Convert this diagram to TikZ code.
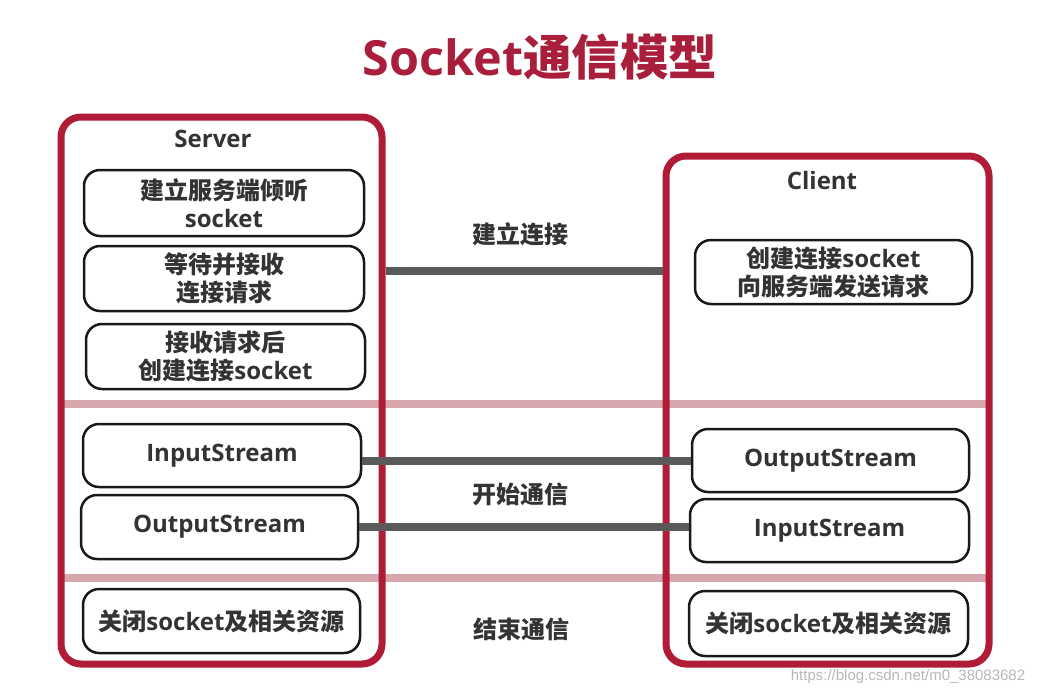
\documentclass[tikz,border=0pt]{standalone}
\usepackage{fontspec}
\setmainfont{Open Sans}
\newfontfamily\cjkfont{Noto Sans CJK SC}
\newfontfamily\wmfont{Liberation Sans}
\newcommand\zh[1]{{\cjkfont#1}}
\definecolor{framered}{HTML}{B01B35}
\definecolor{titlered}{HTML}{A91E3A}
\definecolor{bandpink}{HTML}{D8A6AD}
\definecolor{linkgray}{HTML}{5A5A5A}
\definecolor{txt}{HTML}{333333}
\begin{document}
\begin{tikzpicture}[x=1pt,y=-1pt,
 frame/.style={draw=framered,line width=7pt,rounded corners=20pt,inner sep=0pt},
 item/.style={draw=black!90,line width=2.5pt,rounded corners=16pt,align=center,text=txt,
   font=\bfseries\fontsize{24}{28}\selectfont,inner sep=0pt},
 band/.style={draw=bandpink,line width=8.5pt},
 link/.style={draw=linkgray,line width=8pt},
 lbl/.style={text=txt,font=\bfseries\fontsize{24}{28}\selectfont},
]
\path[use as bounding box,fill=white] (0,0) rectangle (1041,696);

% title
\node[text=titlered,font=\bfseries\fontsize{48.5}{54}\selectfont] (title) at (540,57) {Socket\zh{通信模型}};

% separator bands
\draw[band] (61,404) -- (989,404);
\draw[band] (61,578) -- (989,578);

% frames
\node[frame,minimum width=321pt,minimum height=547pt] (server) at (221.5,390.5) {};
\node[frame,minimum width=323pt,minimum height=508pt] (client) at (827.5,410) {};
\node[lbl] (serverlbl) at (213,139) {Server};
\node[lbl] (clientlbl) at (822,180) {Client};

% server items
\node[item,minimum width=280pt,minimum height=66pt] (s1) at (224,203) {\zh{建立服务端倾听}\\socket};
\node[item,minimum width=280pt,minimum height=65pt] (s2) at (224,278.5) {\zh{等待并接收}\\\zh{连接请求}};
\node[item,minimum width=279pt,minimum height=65pt] (s3) at (225.5,356.5) {\zh{接收请求后}\\\zh{创建连接}socket};
\node[item,minimum width=278pt,minimum height=63pt] (s4) at (222,455.5) {InputStream};
\node[item,minimum width=277pt,minimum height=64pt] (s5) at (219.5,527) {OutputStream};
\node[item,minimum width=277pt,minimum height=64pt] (s6) at (221.5,621) {\zh{关闭}socket\zh{及相关资源}};

% client items
\node[item,minimum width=277pt,minimum height=64pt] (c1) at (833.5,272) {\zh{创建连接}socket\\\zh{向服务端发送请求}};
\node[item,minimum width=277pt,minimum height=63pt] (c2) at (830.5,460.5) {OutputStream};
\node[item,minimum width=279pt,minimum height=63pt] (c3) at (829.5,530.5) {InputStream};
\node[item,minimum width=279pt,minimum height=65pt] (c4) at (828.5,623.5) {\zh{关闭}socket\zh{及相关资源}};

% connectors
\coordinate (k1) at (520,271);
\draw[link] (server.east |- k1) -- (client.west |- k1);
\draw[link] (s4.east |- c2) -- (c2.west);
\draw[link] (s5.east) -- (c3.west |- s5.east);

% phase labels
\node[lbl] (p1) at (520,234) {\zh{建立连接}};
\node[lbl] (p2) at (520,494) {\zh{开始通信}};
\node[lbl] (p3) at (521,629) {\zh{结束通信}};

% watermark
\node[text=black!28,font=\wmfont\fontsize{15}{18}\selectfont] (wm) at (908,677) {https://blog.csdn.net/m0\_38083682};
\end{tikzpicture}
\end{document}
